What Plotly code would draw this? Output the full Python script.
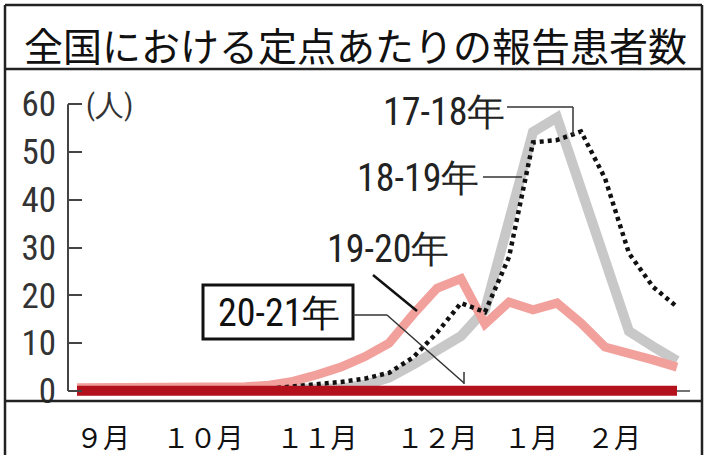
import plotly.graph_objects as go

# ---------------- data (weekly, early Sep -> end Feb) ----------------
WEEKS = list(range(26))  # week index, 0 = first week of September

S_17_18 = [0.1, 0.1, 0.1, 0.1, 0.1, 0.2, 0.2, 0.3, 0.5, 0.9, 1.4, 1.9, 2.6,
           3.8, 7.0, 12.2, 18.4, 16.5, 28.0, 52.0, 52.5, 54.3, 44.5, 28.8, 21.8, 17.6]
S_18_19 = [0.1, 0.1, 0.1, 0.1, 0.1, 0.1, 0.1, 0.1, 0.1, 0.2, 0.3, 0.5, 1.3,
           2.8, 5.5, 8.5, 11.5, 17.0, 36.0, 54.2, 57.2, 42.5, 27.6, 12.5, 9.3, 6.3]
S_19_20 = [0.7, 0.7, 0.7, 0.7, 0.7, 0.8, 0.8, 0.9, 1.2, 2.0, 3.4, 5.0, 7.2,
           10.0, 16.0, 21.5, 23.5, 14.0, 18.6, 17.0, 18.4, 14.2, 9.2, 8.0, 6.5, 5.0]
S_20_21 = [0.05] * 26

SERIES_LABELS = ["17-18年", "18-19年", "19-20年", "20-21年"]
MONTH_LABELS = ["９月", "１０月", "１１月", "１２月", "１月", "２月"]
Y_TICKS = [0, 10, 20, 30, 40, 50, 60]
TITLE = "全国における定点あたりの報告患者数"
UNIT = "(人)"

# ---------------- pixel geometry helpers ----------------
W, H = 708, 455
PL, PR, PT, PB = 68, 690, 99, 402          # plot area in pixels
X0PX, XSTEP = 77, 24.0                      # pixel of week 0, px per week
Y0PX, YSTEP = 391, 4.78                     # pixel of value 0, px per unit

xmin = (PL - X0PX) / XSTEP
xmax = (PR - X0PX) / XSTEP
ymin = (Y0PX - PB) / YSTEP
ymax = (Y0PX - PT) / YSTEP


def px_x(px):
    return (px - PL) / (PR - PL)


def px_y(py):
    return (PB - py) / (PB - PT)


COND = "Liberation Sans Narrow, Roboto Condensed, Arial Narrow, Liberation Sans, sans-serif"
JP = "Noto Sans CJK JP, sans-serif"

fig = go.Figure()
fig.add_trace(go.Scatter(x=WEEKS, y=S_18_19, mode="lines", name=SERIES_LABELS[1],
                         line=dict(color="#c8c8c8", width=10)))
fig.add_trace(go.Scatter(x=WEEKS, y=S_19_20, mode="lines", name=SERIES_LABELS[2],
                         line=dict(color="#f2a09c", width=9)))
fig.add_trace(go.Scatter(x=WEEKS, y=S_17_18, mode="lines", name=SERIES_LABELS[0],
                         line=dict(color="#111111", width=4.5, dash="4px,4px")))
fig.add_trace(go.Scatter(x=WEEKS, y=S_20_21, mode="lines", name=SERIES_LABELS[3],
                         line=dict(color="#b3121c", width=10)))

shapes = []
FR = dict(color="#222222", width=2.5)
# outer frame and separators
shapes.append(dict(type="line", xref="paper", yref="paper", x0=px_x(5), x1=px_x(5), y0=px_y(5), y1=px_y(460), line=FR))
shapes.append(dict(type="line", xref="paper", yref="paper", x0=px_x(702), x1=px_x(702), y0=px_y(5), y1=px_y(460), line=FR))
shapes.append(dict(type="line", xref="paper", yref="paper", x0=px_x(5), x1=px_x(702), y0=px_y(5), y1=px_y(5), line=FR))
shapes.append(dict(type="line", xref="paper", yref="paper", x0=px_x(5), x1=px_x(702), y0=px_y(69), y1=px_y(69), line=FR))
shapes.append(dict(type="line", xref="paper", yref="paper", x0=px_x(5), x1=px_x(702), y0=px_y(401), y1=px_y(401), line=FR))
# y axis line (0..60) and baseline
shapes.append(dict(type="line", xref="paper", yref="y", x0=0, x1=0, y0=0, y1=60,
                   line=dict(color="#444444", width=2)))
shapes.append(dict(type="line", xref="paper", yref="y", x0=0, x1=1, y0=0, y1=0, layer="below",
                   line=dict(color="#444444", width=1.5)))

LD = dict(color="#333333", width=1.5)


def seg(p, q, line=LD):
    shapes.append(dict(type="line", xref="paper", yref="paper",
                       x0=px_x(p[0]), y0=px_y(p[1]), x1=px_x(q[0]), y1=px_y(q[1]), line=line))


# 17-18 leader
seg((507, 107), (573, 107))
seg((573, 107), (573, 135))
# 18-19 leader
seg((483, 177), (522, 177))
# 19-20 leader
seg((373, 275), (417, 311), dict(color="#111111", width=2.5))
# 20-21 box and leader
shapes.append(dict(type="rect", xref="paper", yref="paper",
                   x0=px_x(203), x1=px_x(353), y0=px_y(285), y1=px_y(339),
                   line=dict(color="#111111", width=3)))
seg((353, 315), (387, 315))
seg((387, 315), (464, 383))
seg((464, 372), (464, 384))

annotations = [
    dict(text=TITLE, x=px_x(355), y=px_y(44), xref="paper", yref="paper", showarrow=False,
         xanchor="center", yanchor="middle", font=dict(family=JP, size=39, color="#111111")),
    dict(text=UNIT, x=px_x(84), y=px_y(105), xref="paper", yref="paper", showarrow=False,
         xanchor="left", yanchor="middle", font=dict(family=COND, size=29, color="#333333")),
    dict(text=SERIES_LABELS[0], x=px_x(444), y=px_y(112), xref="paper", yref="paper", showarrow=False,
         xanchor="center", yanchor="middle", font=dict(family=COND, size=38, color="#222222")),
    dict(text=SERIES_LABELS[1], x=px_x(418), y=px_y(178), xref="paper", yref="paper", showarrow=False,
         xanchor="center", yanchor="middle", font=dict(family=COND, size=38, color="#222222")),
    dict(text=SERIES_LABELS[2], x=px_x(388), y=px_y(249), xref="paper", yref="paper", showarrow=False,
         xanchor="center", yanchor="middle", font=dict(family=COND, size=38, color="#222222")),
    dict(text=SERIES_LABELS[3], x=px_x(279), y=px_y(313), xref="paper", yref="paper", showarrow=False,
         xanchor="center", yanchor="middle", font=dict(family=COND, size=38, color="#111111")),
]

month_px = [103, 203, 317, 437, 531, 614]
month_pos = [(p - X0PX) / XSTEP for p in month_px]

fig.update_layout(
    width=W, height=H,
    margin=dict(l=PL, r=W - PR, t=PT, b=H - PB, pad=0, autoexpand=False),
    paper_bgcolor="white", plot_bgcolor="white",
    showlegend=False,
    shapes=shapes,
    annotations=annotations,
    xaxis=dict(range=[xmin, xmax], showgrid=False, zeroline=False, showline=False, automargin=False,
               tickvals=month_pos, ticktext=MONTH_LABELS, ticks="outside", ticklen=13,
               tickcolor="rgba(0,0,0,0)", tickfont=dict(family=JP, size=27, color="#111111")),
    yaxis=dict(range=[ymin, ymax], showgrid=False, zeroline=False, showline=False, automargin=False,
               tickvals=Y_TICKS, ticks="inside", ticklen=14, tickwidth=2, tickcolor="#444444",
               ticklabelstandoff=11,
               tickfont=dict(family=COND, size=35, color="#333333")),
)

fig.write_html("out.html", config={"displayModeBar": False},
               post_script="document.body.style.margin='0';")
